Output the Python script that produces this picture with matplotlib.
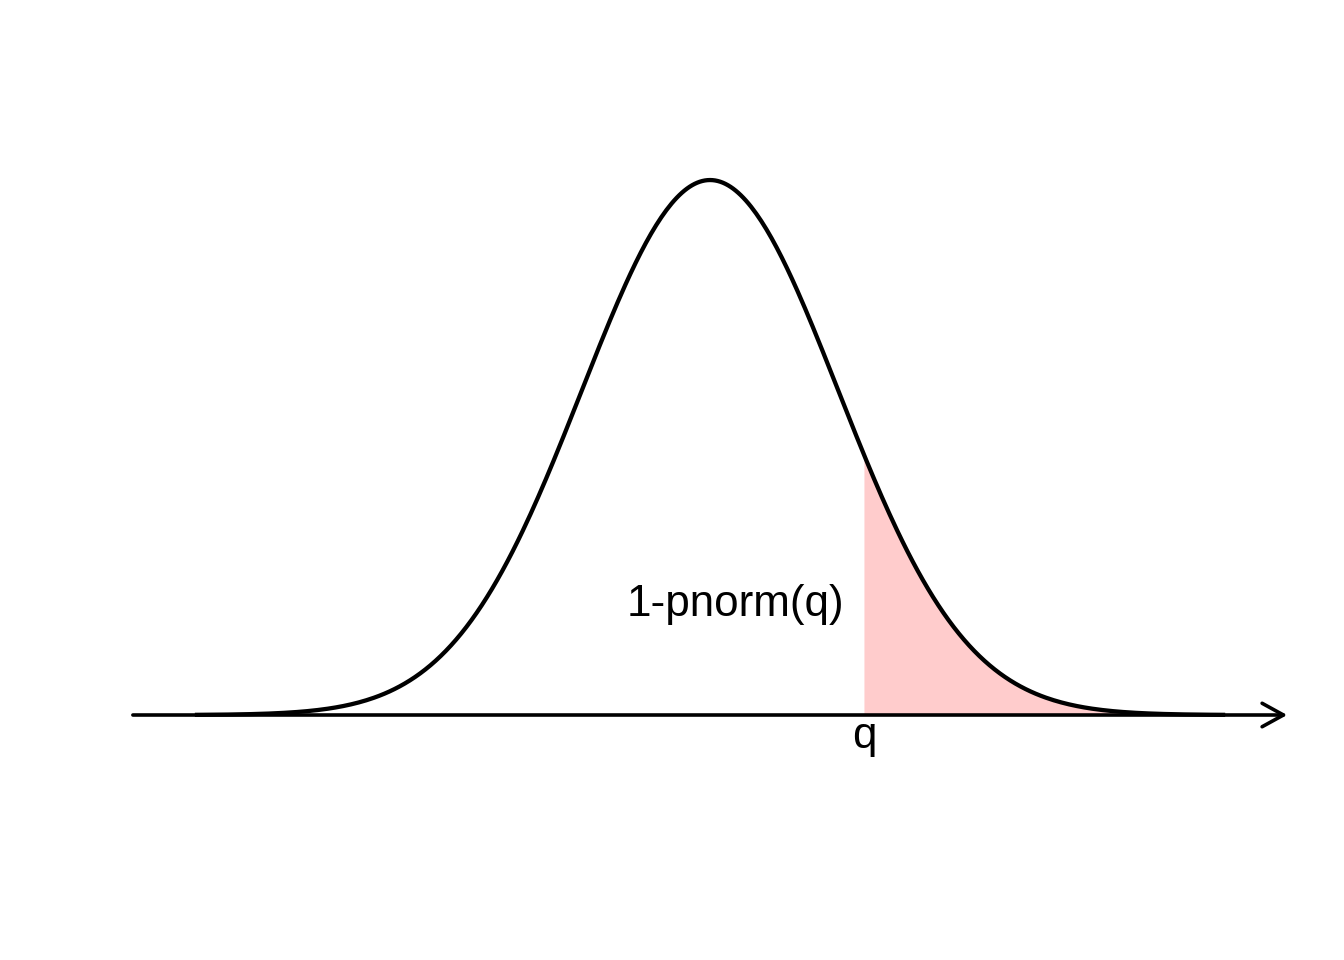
import numpy as np
import matplotlib.pyplot as plt

plt.rcParams['font.family'] = ['Liberation Sans', 'DejaVu Sans']

# standard normal density, shaded upper tail beyond q
mu = 0.0
sd = 1.0
q = 1.2
x_from, x_to = -4.0, 4.0
arrow_from, arrow_to = -4.5, 4.5
tail_label = '1-pnorm(q)'
q_label = 'q'

def dnorm(x):
    return np.exp(-0.5 * ((x - mu) / sd) ** 2) / (sd * np.sqrt(2 * np.pi))

xs = np.linspace(x_from, x_to, 401)
ys = dnorm(xs)
xt = xs[xs >= q]
xt = np.concatenate(([q], xt))

fig = plt.figure(figsize=(7, 5), dpi=192)
ax = fig.add_axes([0, 0, 1, 1])
ax.set_xlim(-5.536, 4.943)
ax.set_ylim(-0.1827, 0.5332)
ax.axis('off')

ax.fill_between(xt, 0, dnorm(xt), color='#ffcccc', linewidth=0)
ax.annotate('', xy=(arrow_to, 0), xytext=(arrow_from, 0),
            arrowprops=dict(arrowstyle='->,head_length=0.4,head_width=0.22',
                            mutation_scale=20, lw=1.35, color='black',
                            shrinkA=0, shrinkB=0))
ax.plot(xs, ys, color='black', lw=1.6)

ax.text(q - 0.15, 0.0738, tail_label, ha='right', va='baseline', fontsize=16.5)
ax.text(q, -0.0246, q_label, ha='center', va='baseline', fontsize=16.5)

fig.savefig('out.png', dpi=192)
